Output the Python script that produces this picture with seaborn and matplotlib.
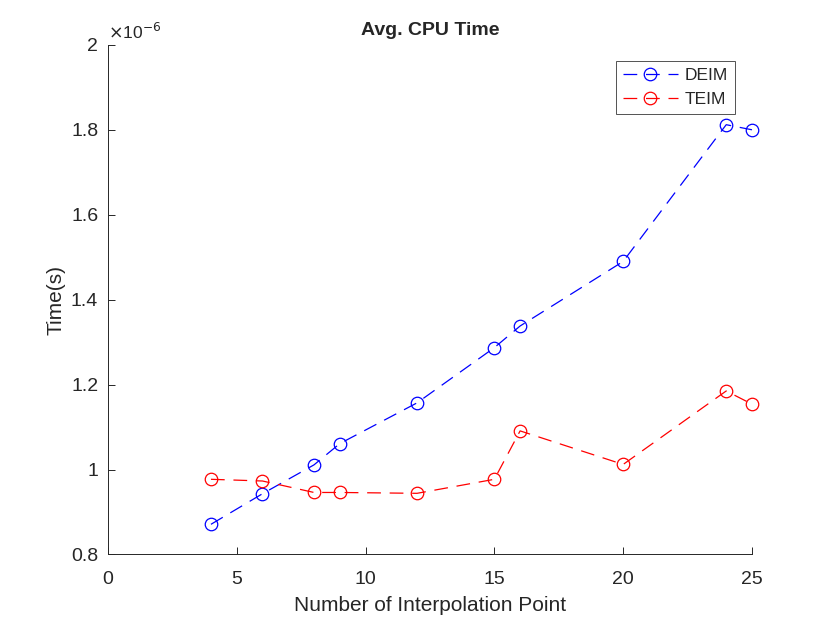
import numpy as np
import pandas as pd
import seaborn as sns
import matplotlib.pyplot as plt
from matplotlib.ticker import FuncFormatter

# 数据 (秒)
n_points = [4, 6, 8, 9, 12, 15, 16, 20, 24, 25]
deim_time = [0.871e-6, 0.943e-6, 1.011e-6, 1.061e-6, 1.157e-6, 1.287e-6, 1.338e-6, 1.490e-6, 1.812e-6, 1.800e-6]
teim_time = [0.977e-6, 0.973e-6, 0.946e-6, 0.946e-6, 0.944e-6, 0.977e-6, 1.091e-6, 1.012e-6, 1.185e-6, 1.154e-6]

sns.set_style('white')
plt.rcParams['font.family'] = ['Liberation Sans', 'DejaVu Sans']

fig = plt.figure(figsize=(8.3, 6.23), dpi=100)
ax = fig.add_axes([0.13, 0.11, 0.776, 0.818])

axis_gray = '#262626'
dash = (0, (11, 7))
sns.lineplot(x=n_points, y=deim_time, color='blue', marker='o', ms=9, mfc='none', mec='blue',
             mew=0.9, lw=0.9, linestyle=dash, label='DEIM', ax=ax, clip_on=False)
sns.lineplot(x=n_points, y=teim_time, color='red', marker='o', ms=9, mfc='none', mec='red',
             mew=0.9, lw=0.9, linestyle=dash, label='TEIM', ax=ax, clip_on=False)

ax.set_xlim(0, 25)
ax.set_ylim(0.8e-6, 2e-6)
ax.set_xticks(np.arange(0, 26, 5))
ax.set_yticks(np.arange(0.8e-6, 2.01e-6, 0.2e-6))
ax.yaxis.set_major_formatter(FuncFormatter(lambda v, p: f'{v * 1e6:g}'))
ax.text(0.0, 1.006, r'$\times$10$^{-6}$', transform=ax.transAxes, fontsize=12.5,
        color=axis_gray, ha='left', va='bottom')

ax.tick_params(bottom=True, left=True, direction='in', length=5, width=0.7, colors=axis_gray,
               labelsize=14, pad=7)
ax.tick_params(axis='x', pad=12)
for s in ['top', 'right']:
    ax.spines[s].set_visible(False)
for s in ['left', 'bottom']:
    ax.spines[s].set_color(axis_gray)
    ax.spines[s].set_linewidth(0.7)

ax.set_title('Avg. CPU Time', fontsize=14, fontweight='bold', pad=7)
ax.set_xlabel('Number of Interpolation Point', fontsize=15, color=axis_gray, labelpad=6)
ax.set_ylabel('Time(s)', fontsize=15, color=axis_gray)

leg = ax.legend(loc='upper right', bbox_to_anchor=(0.974, 0.968), borderaxespad=0, fontsize=12.5,
                frameon=True, fancybox=False, edgecolor=axis_gray, borderpad=0.4,
                labelspacing=0.5, handlelength=3.2, handletextpad=0.4)
leg.get_frame().set_linewidth(0.7)

fig.savefig('out.png', dpi=100)
